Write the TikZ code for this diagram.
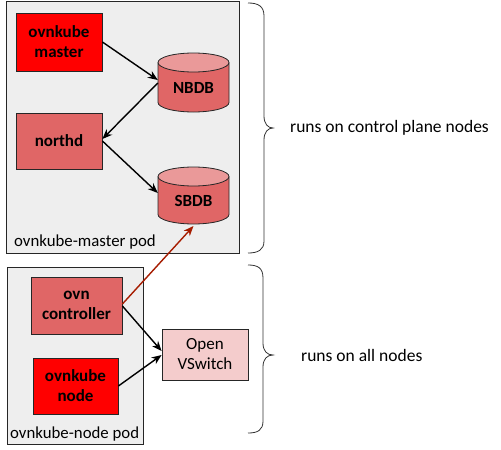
\documentclass[tikz,border=0pt]{standalone}
\usepackage{fontspec}
\setmainfont{Carlito}
\usetikzlibrary{arrows.meta}
\definecolor{podbg}{HTML}{EEEEEE}
\definecolor{redfill}{HTML}{FF0000}
\definecolor{midred}{HTML}{E06666}
\definecolor{lightred}{HTML}{EA9999}
\definecolor{palered}{HTML}{F4CCCC}
\definecolor{darkarrow}{HTML}{A61C00}
\tikzset{
  pod/.style={draw=black!85, fill=podbg, line width=0.8pt},
  comp/.style={draw=black!85, line width=0.8pt, font=\fontsize{17}{20}\selectfont\bfseries, align=center, inner sep=0pt},
  dbbox/.style={inner sep=0pt, font=\fontsize{17}{20}\selectfont\bfseries},
  cyl/.style={draw=black!85, line width=0.8pt},
  conn/.style={-{Stealth[length=10pt,width=8pt]}, line width=1.4pt, black},
  redconn/.style={-{Stealth[length=10pt,width=8pt]}, line width=1.4pt, darkarrow},
  brace/.style={draw=black!80, line width=0.8pt},
  lbl/.style={font=\fontsize{17.5}{20}\selectfont, inner sep=0pt},
  podlbl/.style={font=\fontsize{16.8}{20}\selectfont, inner sep=0pt}
}
\begin{document}
\begin{tikzpicture}[x=1pt,y=1pt]
\useasboundingbox[fill=white] (0,0) rectangle (501,-450);
% pods
\node[pod, minimum width=233pt, minimum height=252pt, anchor=north west] (mpod) at (6,-1) {};
\node[pod, minimum width=136pt, minimum height=177pt, anchor=north west] (npod) at (7,-267) {};
\node[podlbl, anchor=base west] (mpodl) at (14,-246) {ovnkube-master pod};
\node[podlbl, anchor=base west] (npodl) at (10,-438) {ovnkube-node pod};
% components
\node[comp, fill=redfill, minimum width=86pt, minimum height=58pt] (om) at (59,-42) {ovnkube\\master};
\node[comp, fill=midred, minimum width=86pt, minimum height=56pt] (nd) at (59,-141) {northd};
\node[comp, fill=midred, minimum width=91pt, minimum height=57pt] (oc) at (76.5,-305.5) {ovn\\controller};
\node[comp, fill=redfill, minimum width=85pt, minimum height=56pt] (on) at (75.5,-386) {ovnkube\\node};
\node[comp, fill=palered, minimum width=86pt, minimum height=51pt, font=\fontsize{17}{20}\selectfont] (ovs) at (205,-354.5) {Open\\VSwitch};
% NBDB cylinder
\fill[midred] (158,-62.5) -- (158,-102.5) arc (180:360:35.5 and 9.5) -- (229,-62.5) -- cycle;
\draw[cyl] (158,-62.5) -- (158,-102.5) arc (180:360:35.5 and 9.5) -- (229,-62.5);
\draw[cyl, fill=lightred] (193.5,-62.5) ellipse (35.5 and 9.5);
\node[dbbox, minimum width=71pt, minimum height=59pt] (nbdb) at (193.5,-82.5) {};
\node[dbbox] (nbdbl) at (193.5,-88) {NBDB};
% SBDB cylinder
\fill[midred] (158,-176.5) -- (158,-214.5) arc (180:360:35.5 and 9.5) -- (229,-176.5) -- cycle;
\draw[cyl] (158,-176.5) -- (158,-214.5) arc (180:360:35.5 and 9.5) -- (229,-176.5);
\draw[cyl, fill=lightred] (193.5,-176.5) ellipse (35.5 and 9.5);
\node[dbbox, minimum width=71pt, minimum height=57pt] (sbdb) at (193.5,-195.5) {};
\node[dbbox] (sbdbl) at (193.5,-201) {SBDB};
% connectors
\draw[conn] (om.east |- 0,-42) -- (nbdb.west |- 0,-80);
\draw[conn] (nbdb.west |- 0,-83) -- (nd.east |- 0,-139);
\draw[conn] (nd.east |- 0,-141) -- (sbdb.west |- 0,-193);
\draw[conn] (oc.east |- 0,-306) -- (ovs.west |- 0,-351);
\draw[conn] (on.east |- 0,-386) -- (ovs.west |- 0,-355);
\draw[redconn] (oc.east |- 0,-304) -- (sbdb.south |- 0,-226);
% braces
\draw[brace] (248,-3) .. controls (258,-3) and (264,-6) .. (264,-16) -- (264,-116) .. controls (264,-124) and (268,-128) .. (273,-128)
  .. controls (268,-128) and (264,-132) .. (264,-140) -- (264,-241) .. controls (264,-250) and (258,-253) .. (248,-253);
\draw[brace] (248,-265) .. controls (258,-265) and (263,-268) .. (263,-278) -- (263,-343) .. controls (263,-351) and (267,-355) .. (273,-355)
  .. controls (267,-355) and (263,-359) .. (263,-367) -- (263,-421) .. controls (263,-430) and (258,-433) .. (248,-433);
\node[lbl, anchor=west] (t1) at (290,-128) {runs on control plane nodes};
\node[lbl, anchor=west] (t2) at (301,-355) {runs on all nodes};
\end{tikzpicture}
\end{document}
